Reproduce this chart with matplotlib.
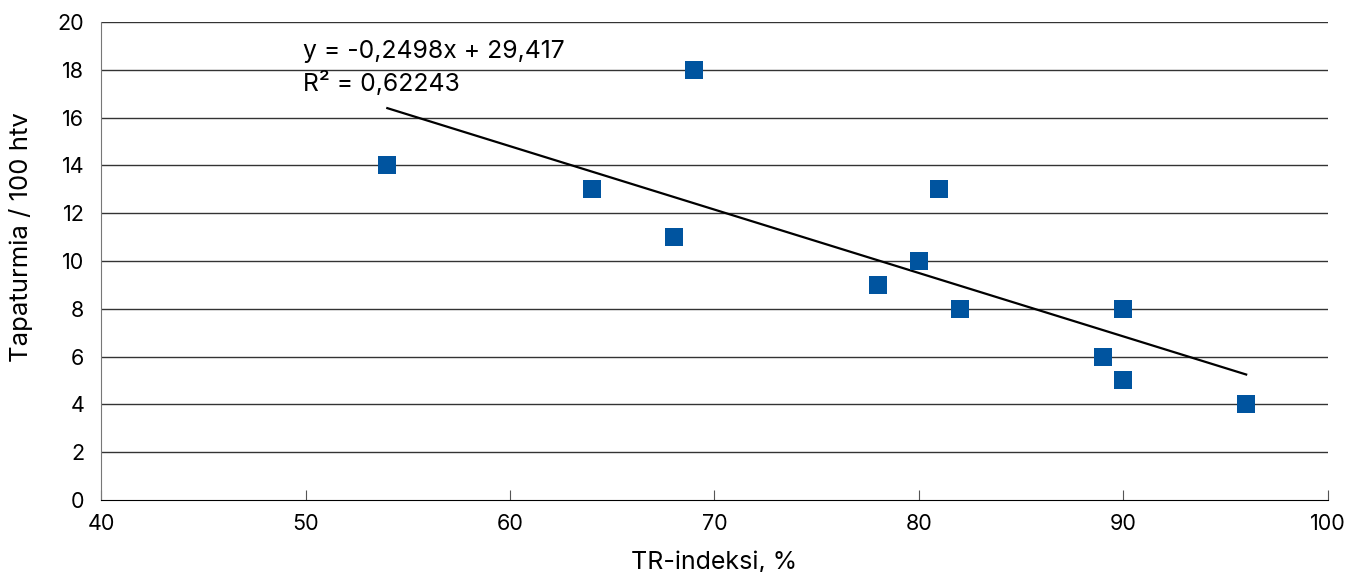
import numpy as np
import matplotlib.pyplot as plt

plt.rcParams['font.family'] = ['Inter', 'DejaVu Sans']

# Data
tr_index = [54, 64, 68, 69, 78, 80, 81, 82, 89, 90, 90, 96]
accidents = [14, 13, 11, 18, 9, 10, 13, 8, 6, 8, 5, 4]
eq_text = "y = -0,2498x + 29,417\nR² = 0,62243"

fig = plt.figure(figsize=(13.49, 5.72), dpi=100)
ax = fig.add_axes([0.0749, 0.1259, 0.9095, 0.8356])

# horizontal grid
for yv in range(2, 21, 2):
    ax.axhline(yv, color='#333333', lw=1.0, zorder=1)

ax.scatter(tr_index, accidents, marker='s', s=150, color='#00549F', zorder=3, linewidths=0)

# linear trend line
k, b = np.polyfit(tr_index, accidents, 1)
xs = np.array([min(tr_index), max(tr_index)])
ax.plot(xs, k * xs + b, color='black', lw=1.6, zorder=2)

ax.text(49.9, 19.25, eq_text, fontsize=17.8, va='top', ha='left', linespacing=1.38)

ax.set_xlim(40, 100)
ax.set_ylim(0, 20)
ax.set_xticks(range(40, 101, 10))
ax.set_yticks(range(0, 21, 2))

for s in ['top', 'right']:
    ax.spines[s].set_visible(False)
ax.spines['left'].set_color('#777777')
ax.spines['bottom'].set_color('black')
ax.tick_params(axis='x', direction='in', length=7, color='#555555', labelsize=15.5, pad=10)
ax.tick_params(axis='y', length=0, labelsize=15.5, pad=12)

ax.set_xlabel('TR-indeksi, %', fontsize=18, labelpad=12)
ax.set_ylabel('Tapaturmia / 100 htv', fontsize=18.5)
ax.yaxis.set_label_coords(-0.0555, 0.551)

fig.savefig('out.png', dpi=100)
